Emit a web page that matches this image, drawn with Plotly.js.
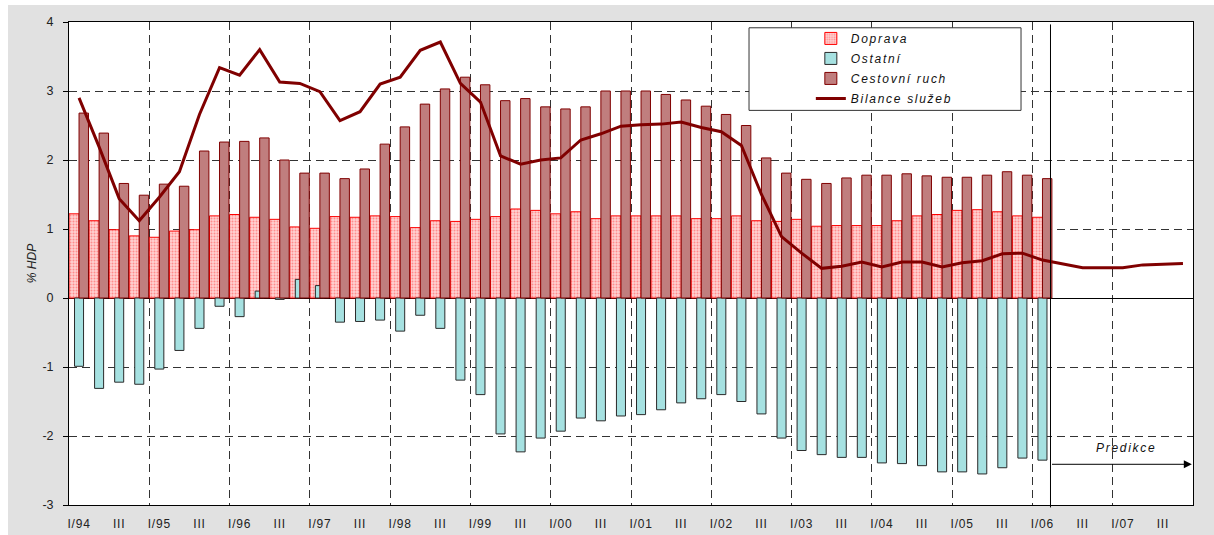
<!DOCTYPE html>
<html>
<head>
<meta charset="utf-8">
<script src="https://cdn.plot.ly/plotly-3.0.1.min.js"></script>
<style>
  html, body { margin: 0; padding: 0; background: #ffffff; }
  #chart { position: absolute; left: 8px; top: 5px; width: 1206px; height: 530px; }
  .legendtext { letter-spacing: 1.7px; }
  .annotation-text { letter-spacing: 1.7px; }
  .xtick text { letter-spacing: 0.8px; }
</style>
</head>
<body>
<div id="chart"></div>
<script>
// Quarters (categories)
const quarters = [
  "I/94","II/94","III/94","IV/94","I/95","II/95","III/95","IV/95",
  "I/96","II/96","III/96","IV/96","I/97","II/97","III/97","IV/97",
  "I/98","II/98","III/98","IV/98","I/99","II/99","III/99","IV/99",
  "I/00","II/00","III/00","IV/00","I/01","II/01","III/01","IV/01",
  "I/02","II/02","III/02","IV/02","I/03","II/03","III/03","IV/03",
  "I/04","II/04","III/04","IV/04","I/05","II/05","III/05","IV/05",
  "I/06","II/06","III/06","IV/06","I/07","II/07","III/07","IV/07"
];

// X tick labels (every second quarter)
const tickLabels = [
  "I/94","III","I/95","III","I/96","III","I/97","III","I/98","III",
  "I/99","III","I/00","III","I/01","III","I/02","III","I/03","III",
  "I/04","III","I/05","III","I/06","III","I/07","III"
];

// Y tick values and labels
const yTickVals = [-3, -2, -1, 0, 1, 2, 3, 4];
const yTickLabels = ["-3", "-2", "-1", "0", "1", "2", "3", "4"];

// Doprava (% HDP), I/94 - I/06
const doprava = [
  1.22,1.12,0.99,0.90,0.88,0.97,0.99,1.19,1.21,1.17,1.14,1.03,1.01,
  1.18,1.17,1.19,1.18,1.02,1.12,1.11,1.14,1.18,1.29,1.27,1.22,1.25,
  1.15,1.19,1.19,1.19,1.19,1.15,1.15,1.19,1.12,1.11,1.14,1.04,1.05,
  1.05,1.05,1.12,1.19,1.21,1.27,1.28,1.25,1.19,1.17
];

// Ostatní (% HDP)
const ostatni = [
  -0.99,-1.31,-1.22,-1.25,-1.03,-0.76,-0.44,-0.12,-0.27,0.10,-0.02,0.27,0.18,
  -0.35,-0.34,-0.32,-0.48,-0.25,-0.44,-1.19,-1.40,-1.97,-2.23,-2.03,-1.93,-1.74,
  -1.78,-1.71,-1.69,-1.62,-1.52,-1.46,-1.40,-1.50,-1.68,-2.03,-2.21,-2.27,-2.31,
  -2.31,-2.39,-2.40,-2.43,-2.52,-2.52,-2.55,-2.46,-2.32,-2.35
];

// Cestovní ruch (% HDP)
const cestovniRuch = [
  2.68,2.39,1.66,1.49,1.65,1.62,2.13,2.26,2.27,2.32,2.00,1.81,1.81,
  1.73,1.87,2.23,2.48,2.81,3.03,3.20,3.09,2.86,2.89,2.77,2.74,2.77,
  3.00,3.00,3.00,2.95,2.87,2.78,2.66,2.50,2.03,1.81,1.72,1.66,1.74,
  1.78,1.78,1.80,1.77,1.75,1.75,1.78,1.83,1.78,1.73
];

// Bilance služeb (% HDP), I/94 - IV/07 (incl. prediction)
const bilanceSluzeb = [
  2.90,2.19,1.44,1.12,1.46,1.83,2.66,3.34,3.23,3.60,3.13,3.11,2.99,2.57,
  2.70,3.10,3.20,3.59,3.71,3.11,2.84,2.06,1.94,2.00,2.03,2.29,2.38,2.49,
  2.51,2.52,2.55,2.47,2.41,2.21,1.50,0.89,0.65,0.43,0.46,0.52,0.45,0.52,
  0.52,0.45,0.51,0.54,0.64,0.65,0.55,0.50,0.44,0.44,0.44,0.48,0.49,0.50
];

const idx = quarters.map((q, i) => i);
const barIdx = doprava.map((v, i) => i);
const tickVals = tickLabels.map((t, i) => 2 * i);
const yearBounds = quarters
  .map((q, i) => (q.startsWith("I/") && i > 0) ? i - 0.5 : null)
  .filter(v => v !== null);
const predStart = doprava.length - 1 + 0.4;
const predEnd = quarters.length - 1 + 0.44;

const FONT = "Liberation Sans, Arial, sans-serif";

const traces = [
  {
    type: "bar", name: "Doprava", x: barIdx, y: doprava, legendgroup: "g1",
    offset: -0.5, width: 0.5,
    marker: {
      color: "#ffd0d0",
      line: { color: "#ff0000", width: 1 },
      pattern: { shape: ".", fgcolor: "#ff8c8c", bgcolor: "#ffd2d2", size: 3, solidity: 0.35 }
    },
    hoverinfo: "skip"
  },
  {
    type: "bar", name: "Ostatní", x: barIdx, y: ostatni, legendgroup: "g2",
    offset: -0.225, width: 0.45,
    marker: { color: "#a6e1e1", line: { color: "#2a2a2a", width: 1 } },
    hoverinfo: "skip"
  },
  {
    type: "bar", name: "Cestovní ruch", x: barIdx, y: cestovniRuch, legendgroup: "g3",
    offset: 0, width: 0.47,
    marker: { color: "#c07e7e", line: { color: "#800000", width: 1 } },
    hoverinfo: "skip"
  },
  {
    type: "scatter", mode: "lines", name: "Bilance služeb", x: idx, y: bilanceSluzeb, legendgroup: "g4",
    line: { color: "#800000", width: 3 },
    hoverinfo: "skip"
  }
];

const layout = {
  width: 1206, height: 530,
  margin: { l: 61, r: 21, t: 17, b: 30 },
  paper_bgcolor: "#e1e1e1",
  plot_bgcolor: "#ffffff",
  barmode: "overlay",
  showlegend: true,
  font: { family: FONT, size: 12, color: "#222222" },
  xaxis: {
    range: [-0.5, quarters.length - 0.5],
    tickmode: "array", tickvals: tickVals, ticktext: tickLabels,
    showgrid: false, zeroline: false,
    showline: true, linecolor: "#000000", linewidth: 1, mirror: true,
    ticks: "", ticklabelstandoff: 8,
    tickfont: { family: FONT, size: 12, color: "#222222" },
    minor: { tickmode: "array", tickvals: yearBounds, showgrid: true,
             gridcolor: "#333333", gridwidth: 1, griddash: "8px,5px", ticks: "" }
  },
  yaxis: {
    range: [-3, 4],
    tickmode: "array", tickvals: yTickVals, ticktext: yTickLabels,
    showgrid: true, gridcolor: "#333333", gridwidth: 1, griddash: "8px,5px",
    zeroline: true, zerolinecolor: "#000000", zerolinewidth: 1,
    showline: true, linecolor: "#000000", linewidth: 1, mirror: true,
    ticks: "outside", ticklen: 5, tickcolor: "#000000",
    ticklabelstandoff: 7,
    tickfont: { family: FONT, size: 12.5, color: "#222222" },
    title: { text: "% HDP", font: { family: FONT, size: 12, style: "italic", color: "#222222" }, standoff: 3 }
  },
  legend: {
    x: 0.660, y: 0.996, xanchor: "left", yanchor: "top",
    bgcolor: "rgba(0,0,0,0)", borderwidth: 0,
    font: { family: FONT, size: 12, style: "italic", color: "#111111" },
    traceorder: "grouped", tracegroupgap: 1, itemwidth: 30
  },
  shapes: [
    { type: "rect", xref: "paper", yref: "paper", x0: 0.605, x1: 0.847, y0: 0.817, y1: 0.988,
      fillcolor: "#ffffff", line: { color: "#333333", width: 1 }, layer: "above" },
    { type: "line", xref: "x", yref: "paper", x0: predStart, x1: predStart, y0: -0.005, y1: 0.995,
      line: { color: "#000000", width: 1 }, layer: "above" }
  ],
  annotations: [
    { xref: "x", yref: "y", axref: "x", ayref: "y",
      x: predEnd, y: -2.41, ax: predStart, ay: -2.41,
      text: "", showarrow: true, arrowhead: 2, arrowsize: 1.6, arrowwidth: 1, arrowcolor: "#000000", standoff: 0 },
    { xref: "x", yref: "y", x: 52.17, y: -2.18, text: "Predikce", showarrow: false,
      font: { family: FONT, size: 12, style: "italic", color: "#111111" } }
  ]
};

Plotly.newPlot("chart", traces, layout, { staticPlot: true, displayModeBar: false });
</script>
</body>
</html>
